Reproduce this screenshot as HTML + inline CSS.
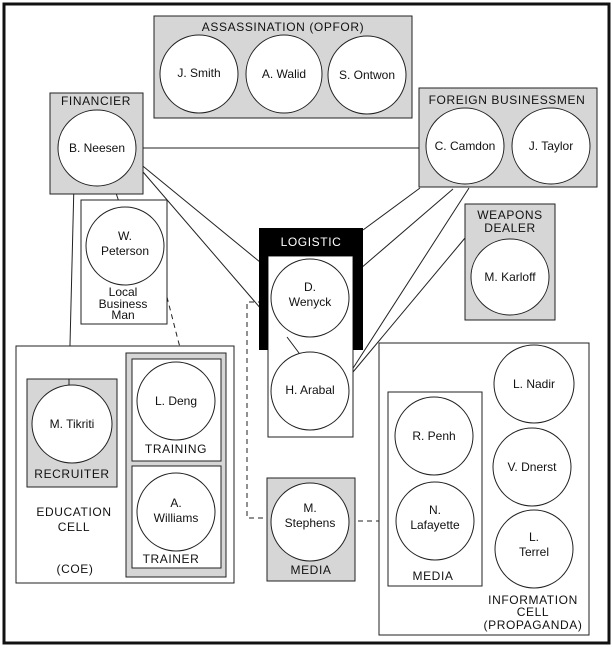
<!DOCTYPE html>
<html><head><meta charset="utf-8"><style>
html,body{margin:0;padding:0;background:#fff;}
svg{display:block;}
text{font-family:"Liberation Sans",Arial,sans-serif;font-size:12px;fill:#111;text-anchor:middle;}
.l{letter-spacing:0.6px;}
</style></head><body>
<svg width="613" height="649" viewBox="0 0 613 649" xmlns="http://www.w3.org/2000/svg">
<rect x="0" y="0" width="613" height="649" fill="#fff"/>
<rect x="4" y="4" width="605" height="639" fill="none" stroke="#111" stroke-width="3"/>

<!-- connector lines (behind) -->
<g stroke="#222" stroke-width="1" fill="none">
<line x1="143" y1="148" x2="426" y2="148"/>
<line x1="74" y1="183" x2="69" y2="385"/>
<line x1="113" y1="184" x2="121" y2="208"/>
<line x1="133" y1="158" x2="277" y2="276"/>
<line x1="137" y1="165" x2="299" y2="353"/>
<line x1="420" y1="188" x2="363" y2="230"/>
<line x1="453" y1="189" x2="346" y2="281"/>
<line x1="469" y1="188" x2="348" y2="376"/>
<line x1="465" y1="238" x2="348" y2="378"/>
</g>
<g stroke="#222" stroke-width="1" fill="none" stroke-dasharray="5,4">
<polyline points="158,262 178,340 184,362"/>
<polyline points="272,302 247,302 247,518 271,518"/>
<line x1="349" y1="521" x2="395" y2="521"/>
</g>

<!-- Assassination -->
<rect x="154" y="16" width="258" height="102" fill="#d6d6d6" stroke="#222"/>
<text x="283" y="31" class="l">ASSASSINATION (OPFOR)</text>
<g fill="#fff" stroke="#222">
<ellipse cx="199" cy="74" rx="39" ry="39"/>
<ellipse cx="284" cy="74" rx="38" ry="39"/>
<ellipse cx="367" cy="75" rx="39" ry="39"/>
</g>
<text x="199" y="77">J. Smith</text>
<text x="284" y="78">A. Walid</text>
<text x="367" y="79">S. Ontwon</text>

<!-- Financier -->
<rect x="50" y="93" width="93" height="101" fill="#d6d6d6" stroke="#222"/>
<text x="96" y="105" class="l">FINANCIER</text>
<ellipse cx="97" cy="148" rx="39" ry="38" fill="#fff" stroke="#222"/>
<text x="97" y="152">B. Neesen</text>

<!-- Foreign businessmen -->
<rect x="419" y="88" width="178" height="99" fill="#d6d6d6" stroke="#222"/>
<text x="507" y="104" class="l">FOREIGN BUSINESSMEN</text>
<ellipse cx="465" cy="146" rx="39" ry="38" fill="#fff" stroke="#222"/>
<ellipse cx="551" cy="146" rx="39" ry="38" fill="#fff" stroke="#222"/>
<text x="465" y="150">C. Camdon</text>
<text x="551" y="150">J. Taylor</text>

<!-- Local Business Man -->
<rect x="81" y="200" width="86" height="124" fill="#fff" stroke="#222"/>
<ellipse cx="125" cy="246" rx="39" ry="39" fill="#fff" stroke="#222"/>
<text x="125" y="240">W.</text>
<text x="125" y="255">Peterson</text>
<text x="123" y="296">Local</text>
<text x="123" y="308">Business</text>
<text x="123" y="319">Man</text>

<!-- Logistic -->
<rect x="268" y="256" width="85" height="181" fill="#fff" stroke="#222"/>
<path d="M259,228 H363 V350 H353 V256 H268 V350 H259 Z" fill="#000"/>
<text x="311" y="246" class="l" style="fill:#fff">LOGISTIC</text>
<ellipse cx="310" cy="298" rx="39" ry="39" fill="#fff" stroke="#222"/>
<text x="310" y="291">D.</text>
<text x="310" y="306">Wenyck</text>
<ellipse cx="310" cy="391" rx="39" ry="39" fill="#fff" stroke="#222"/>
<text x="310" y="394">H. Arabal</text>
<line x1="287" y1="337" x2="299" y2="353" stroke="#222"/>

<!-- Weapons dealer -->
<rect x="465" y="204" width="90" height="116" fill="#d6d6d6" stroke="#222"/>
<text x="510" y="219" class="l">WEAPONS</text>
<text x="510" y="232" class="l">DEALER</text>
<ellipse cx="510" cy="277" rx="39" ry="38" fill="#fff" stroke="#222"/>
<text x="510" y="281">M. Karloff</text>

<!-- Education cell -->
<rect x="16" y="346" width="218" height="237" fill="#fff" stroke="#222"/>
<rect x="27" y="379" width="90" height="108" fill="#d6d6d6" stroke="#222"/>
<ellipse cx="72" cy="424" rx="40" ry="39" fill="#fff" stroke="#222"/>
<text x="72" y="428">M. Tikriti</text>
<text x="72" y="478" class="l">RECRUITER</text>
<line x1="69" y1="379" x2="69" y2="385" stroke="#222"/>
<rect x="126" y="353" width="100" height="224" fill="#d6d6d6" stroke="#222"/>
<rect x="132" y="359" width="89" height="102" fill="#fff" stroke="#222"/>
<ellipse cx="176" cy="401" rx="39" ry="39" fill="#fff" stroke="#222"/>
<text x="176" y="405">L. Deng</text>
<text x="176" y="453" class="l">TRAINING</text>
<rect x="132" y="466" width="89" height="102" fill="#fff" stroke="#222"/>
<ellipse cx="176" cy="512" rx="39" ry="39" fill="#fff" stroke="#222"/>
<text x="176" y="507">A.</text>
<text x="176" y="522">Williams</text>
<text x="171" y="563" class="l">TRAINER</text>
<text x="74" y="516" class="l">EDUCATION</text>
<text x="74" y="531" class="l">CELL</text>
<text x="75" y="573" class="l">(COE)</text>

<!-- Media (center) -->
<rect x="267" y="478" width="88" height="103" fill="#d6d6d6" stroke="#222"/>
<ellipse cx="310" cy="522" rx="39" ry="39" fill="#fff" stroke="#222"/>
<text x="310" y="512">M.</text>
<text x="310" y="527">Stephens</text>
<text x="311" y="574" class="l">MEDIA</text>

<!-- Information cell -->
<rect x="379" y="343" width="210" height="292" fill="#fff" stroke="#222"/>
<rect x="388" y="392" width="94" height="194" fill="#fff" stroke="#222"/>
<ellipse cx="434" cy="436" rx="39" ry="39" fill="#fff" stroke="#222"/>
<text x="434" y="440">R. Penh</text>
<ellipse cx="435" cy="521" rx="39" ry="39" fill="#fff" stroke="#222"/>
<text x="435" y="514">N.</text>
<text x="435" y="529">Lafayette</text>
<text x="433" y="580" class="l">MEDIA</text>
<ellipse cx="534" cy="384" rx="40" ry="39" fill="#fff" stroke="#222"/>
<text x="534" y="388">L. Nadir</text>
<ellipse cx="532" cy="467" rx="39" ry="39" fill="#fff" stroke="#222"/>
<text x="532" y="471">V. Dnerst</text>
<ellipse cx="534" cy="549" rx="39" ry="39" fill="#fff" stroke="#222"/>
<text x="534" y="541">L.</text>
<text x="534" y="556">Terrel</text>
<text x="533" y="604" class="l">INFORMATION</text>
<text x="533" y="616" class="l">CELL</text>
<text x="533" y="629" class="l">(PROPAGANDA)</text>
</svg>
</body></html>
